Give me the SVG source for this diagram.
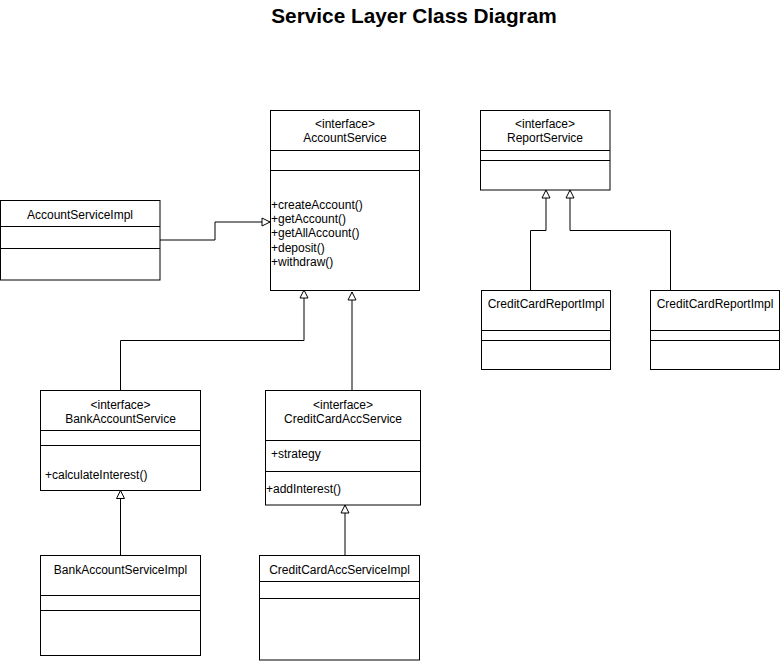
<svg xmlns="http://www.w3.org/2000/svg" width="781" height="661" viewBox="0 0 781 661">
<style>
.box{fill:#fff;stroke:#000;stroke-width:1}
.div{stroke:#000;stroke-width:1;fill:none}
.t{font-family:"Liberation Sans",Arial,sans-serif;font-size:12px;fill:#000}
.c{text-anchor:middle}
.edge{fill:none;stroke:#000;stroke-width:1}
.title{font-family:"Liberation Sans",Arial,sans-serif;font-size:20.8px;font-weight:bold;text-anchor:middle;fill:#000}
</style>
<defs>
<marker id="tri" markerUnits="userSpaceOnUse" markerWidth="10" markerHeight="10" refX="8" refY="4" orient="auto" viewBox="-1 -1 10 10">
<path d="M0,0 L8,4 L0,8 Z" fill="#fff" stroke="#000" stroke-width="1"/>
</marker>
</defs>
<rect width="781" height="661" fill="#fff"/>
<text class="title" x="414" y="22.5">Service Layer Class Diagram</text>

<g id="edges">
<path class="edge" d="M160,240 H215 V222 H270" marker-end="url(#tri)"/>
<path class="edge" d="M120.5,390 V340.5 H304 V290" marker-end="url(#tri)"/>
<path class="edge" d="M352,390 V292" marker-end="url(#tri)"/>
<path class="edge" d="M120.5,555 V490.5" marker-end="url(#tri)"/>
<path class="edge" d="M345,555 V505" marker-end="url(#tri)"/>
<path class="edge" d="M530.5,290 V230.5 H546 V190" marker-end="url(#tri)"/>
<path class="edge" d="M670.5,290 V230.5 H570 V190" marker-end="url(#tri)"/>
</g>

<g id="AccountService">
<rect class="box" x="270.5" y="110.5" width="149" height="180"/>
<path class="div" d="M270.5,150.5 H419.5 M270.5,170.5 H419.5"/>
<text class="t c" x="345" y="128">&lt;interface&gt;</text>
<text class="t c" x="345" y="142">AccountService</text>
<text class="t" x="271" y="208.5">+createAccount()</text>
<text class="t" x="271" y="223">+getAccount()</text>
<text class="t" x="271" y="237.4">+getAllAccount()</text>
<text class="t" x="271" y="251.8">+deposit()</text>
<text class="t" x="271" y="266.2">+withdraw()</text>
</g>

<g id="AccountServiceImpl">
<rect class="box" x="0.5" y="200.5" width="159.5" height="79.5"/>
<path class="div" d="M0.5,226.5 H160 M0.5,248.5 H160"/>
<text class="t c" x="80" y="219">AccountServiceImpl</text>
</g>

<g id="ReportService">
<rect class="box" x="480.5" y="110.5" width="129.5" height="79.5"/>
<path class="div" d="M480.5,150.5 H610 M480.5,160.5 H610"/>
<text class="t c" x="545" y="128">&lt;interface&gt;</text>
<text class="t c" x="545" y="142">ReportService</text>
</g>

<g id="CreditCardReportImpl1">
<rect class="box" x="481.5" y="290.5" width="129" height="79"/>
<path class="div" d="M481.5,330.5 H610.5 M481.5,340.5 H610.5"/>
<text class="t c" x="546" y="308">CreditCardReportImpl</text>
</g>

<g id="CreditCardReportImpl2">
<rect class="box" x="650.5" y="290.5" width="129" height="79"/>
<path class="div" d="M650.5,330.5 H779.5 M650.5,340.5 H779.5"/>
<text class="t c" x="715" y="308">CreditCardReportImpl</text>
</g>

<g id="BankAccountService">
<rect class="box" x="40.5" y="390.5" width="160" height="100"/>
<path class="div" d="M40.5,430.5 H200.5 M40.5,445.5 H200.5"/>
<text class="t c" x="120.5" y="409">&lt;interface&gt;</text>
<text class="t c" x="120.5" y="422.5">BankAccountService</text>
<text class="t" x="45" y="478.5">+calculateInterest()</text>
</g>

<g id="CreditCardAccService">
<rect class="box" x="265.5" y="390.5" width="155" height="114.5"/>
<path class="div" d="M265.5,440.5 H420.5 M265.5,471.5 H420.5"/>
<text class="t c" x="343" y="409">&lt;interface&gt;</text>
<text class="t c" x="343" y="422.5">CreditCardAccService</text>
<text class="t" x="271" y="458">+strategy</text>
<text class="t" x="266" y="493">+addInterest()</text>
</g>

<g id="BankAccountServiceImpl">
<rect class="box" x="40.5" y="555.5" width="160" height="100"/>
<path class="div" d="M40.5,595.5 H200.5 M40.5,610.5 H200.5"/>
<text class="t c" x="120.5" y="574">BankAccountServiceImpl</text>
</g>

<g id="CreditCardAccServiceImpl">
<rect class="box" x="259.5" y="555.5" width="160" height="104.5"/>
<path class="div" d="M259.5,581.5 H419.5 M259.5,598.5 H419.5"/>
<text class="t c" x="339.5" y="574">CreditCardAccServiceImpl</text>
</g>
</svg>
